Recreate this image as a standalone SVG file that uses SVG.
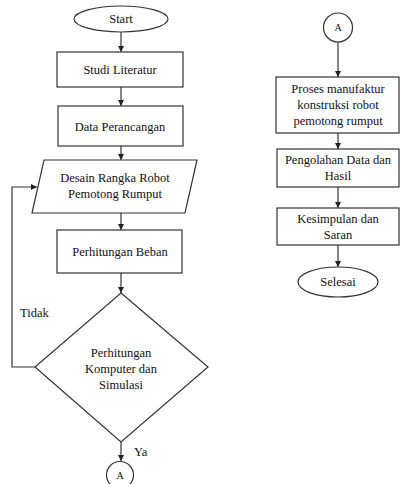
<svg xmlns="http://www.w3.org/2000/svg" width="400" height="484" viewBox="0 0 400 484">
<defs>
<marker id="ah" viewBox="0 0 8 8" refX="8" refY="4" markerWidth="6" markerHeight="6" markerUnits="userSpaceOnUse" orient="auto">
<path d="M0,0 L8,4 L0,8 z" fill="#222"/>
</marker>
<style>
.s{fill:#fff;stroke:#333;stroke-width:1.2}
.c{fill:none;stroke:#333;stroke-width:1.2;marker-end:url(#ah)}
text{font-family:"Liberation Serif","Times New Roman",serif;font-size:12.5px;fill:#111;text-anchor:middle}
.sm{font-size:10px}
.st{text-anchor:start}
</style>
</defs>
<rect width="400" height="484" fill="#fff"/>
<g id="connectors">
<line class="c" x1="121" y1="32" x2="121" y2="52"/>
<line class="c" x1="121" y1="87" x2="121" y2="106"/>
<line class="c" x1="121" y1="146" x2="121" y2="160"/>
<line class="c" x1="121" y1="213" x2="121" y2="230"/>
<line class="c" x1="121" y1="273" x2="121" y2="293"/>
<polyline class="c" points="35,367 12,367 12,187 37,187"/>
<line class="c" x1="121" y1="442" x2="121" y2="461"/>
<line class="c" x1="338" y1="42" x2="338" y2="77"/>
<line class="c" x1="338" y1="133" x2="338" y2="149"/>
<line class="c" x1="338" y1="187" x2="338" y2="208"/>
<line class="c" x1="338" y1="245" x2="338" y2="267"/>
<text class="st" x="20" y="317">Tidak</text>
<text class="st" x="134" y="456">Ya</text>
</g>
<g id="start">
<ellipse class="s" cx="121" cy="19" rx="47" ry="13"/>
<text x="121" y="23">Start</text>
</g>
<g id="studi">
<rect class="s" x="57" y="52" width="126" height="35"/>
<text x="120" y="74">Studi Literatur</text>
</g>
<g id="data">
<rect class="s" x="58" y="106" width="125" height="40"/>
<text x="120" y="131">Data Perancangan</text>
</g>
<g id="desain">
<polygon class="s" points="44,160 197,160 185,213 32,213"/>
<text x="115" y="182">Desain Rangka Robot</text>
<text x="115" y="198">Pemotong Rumput</text>
</g>
<g id="beban">
<rect class="s" x="57" y="230" width="125" height="43"/>
<text x="120" y="256">Perhitungan Beban</text>
</g>
<g id="keputusan">
<polygon class="s" points="121,293 208,367 121,442 35,367"/>
<text x="121" y="357">Perhitungan</text>
<text x="121" y="373">Komputer dan</text>
<text x="121" y="389">Simulasi</text>
</g>
<g id="a1">
<circle class="s" cx="120" cy="475" r="13.5"/>
<text class="sm" x="120" y="479">A</text>
</g>
<g id="a2">
<circle class="s" cx="338" cy="27.5" r="14.5"/>
<text class="sm" x="338" y="31">A</text>
</g>
<g id="proses">
<rect class="s" x="276" y="77" width="123" height="56"/>
<text x="338" y="93">Proses manufaktur</text>
<text x="338" y="109">konstruksi robot</text>
<text x="338" y="125">pemotong rumput</text>
</g>
<g id="pengolahan">
<rect class="s" x="277" y="149" width="122" height="38"/>
<text x="338" y="164">Pengolahan Data dan</text>
<text x="338" y="180">Hasil</text>
</g>
<g id="kesimpulan">
<rect class="s" x="277" y="208" width="122" height="37"/>
<text x="338" y="223">Kesimpulan dan</text>
<text x="338" y="239">Saran</text>
</g>
<g id="selesai">
<ellipse class="s" cx="338" cy="282" rx="40" ry="15"/>
<text x="338" y="286">Selesai</text>
</g>
</svg>
